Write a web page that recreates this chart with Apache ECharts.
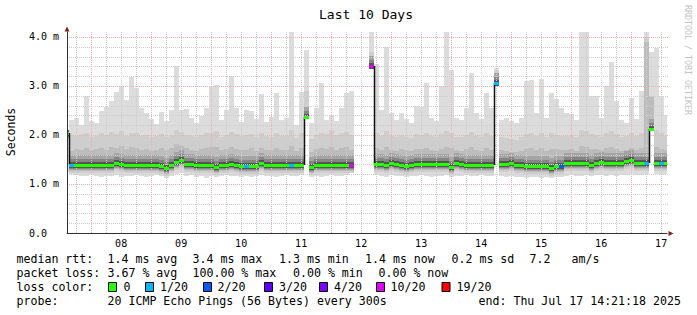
<!DOCTYPE html>
<html><head><meta charset="utf-8">
<script src="https://cdn.jsdelivr.net/npm/echarts@6/dist/echarts.min.js"></script>
<style>html,body{margin:0;padding:0;background:#fff}#c{width:697px;height:315px}</style>
</head><body><div id="c"></div>
<script>
// ---- time base: hours since Jul 7 00:00 ----
const PLOT_START_HOUR = 14.35;   // Jul 7 14:21
const PLOT_END_HOUR = 254.35;    // Jul 17 14:21
const SLOT_START_HOUR = 13;      // first consolidated slot
const SLOT_HOURS = 2;

// day labels (placed at noon of each day)
const dayLabelHours = [36, 60, 84, 108, 132, 156, 180, 204, 228, 252];
const dayLabels = ['08', '09', '10', '11', '12', '13', '14', '15', '16', '17'];

// y tick labels
const yTickValues = [0, 1, 2, 3, 4];
const yTickLabels = ['0.0\u00a0\u00a0', '1.0 m', '2.0 m', '3.0 m', '4.0 m'];

// smoke: highest ping (ms)
const smokeMax = [
 2.10, 2.30, 2.35, 2.20, 2.80, 2.28, 2.25, 2.49, 2.57, 2.70,
 2.88, 3.00, 2.72, 3.18, 2.96, 2.54, 2.45, 2.32, 2.22, 2.47,
 2.28, 2.50, 3.41, 2.50, 2.52, 2.34, 2.25, 2.38, 2.55, 3.00,
 3.02, 2.30, 2.50, 3.20, 2.55, 2.26, 2.50, 2.48, 2.32, 2.83,
 2.27, 2.36, 2.86, 2.30, 2.34, 4.09, 2.20, 2.88, 3.73, 2.25,
 2.55, 3.06, 2.30, 2.40, 2.28, 2.55, 2.86, 2.90, null, null,
 null, 4.09, 3.45, 2.50, 3.80, 2.45, 2.30, 2.45, 2.32, 2.25,
 2.60, 2.58, 3.06, 2.35, 2.28, 3.00, 4.09, 3.33, 2.35, 2.30,
 2.55, 3.27, 2.45, 2.32, 2.86, 2.55, 3.36, 2.30, 2.35, 2.28,
 2.25, 2.35, 3.10, 3.12, 2.45, 3.15, 2.35, 2.86, 2.73, 2.55,
 2.45, 2.42, 2.30, 4.09, 4.09, 2.80, 2.80, 2.35, 3.00, 3.48,
 2.70, 2.30, 2.25, 2.75, 2.32, 2.90, 4.09, 3.70, 3.77, 2.80, 2.40
];
// smoke: upper layer top (ms)
const smokeHigh = [
 1.95, 2.00, 1.98, 2.02, 2.05, 1.96, 1.98, 2.03, 2.00, 2.06,
 2.02, 2.08, 1.97, 2.05, 2.04, 1.98, 2.00, 1.95, 1.97, 2.02,
 1.96, 2.00, 2.10, 2.06, 2.00, 1.97, 1.95, 1.99, 2.03, 2.05,
 2.08, 1.96, 2.00, 2.06, 2.01, 1.97, 1.99, 2.02, 1.95, 2.04,
 1.98, 1.96, 2.03, 1.97, 1.98, 2.10, 1.94, 2.05, 2.90, 1.92,
 2.00, 2.05, 2.02, 2.10, 2.00, 2.04, 2.06, 2.00, null, null,
 null, 3.69, 2.05, 1.97, 2.08, 1.98, 1.95, 1.99, 1.96, 1.94,
 2.02, 2.00, 2.05, 1.97, 1.95, 2.02, 2.08, 2.05, 1.96, 1.95,
 2.00, 2.07, 1.98, 1.95, 2.03, 1.98, 3.30, 1.96, 1.94, 1.92,
 1.90, 1.95, 2.02, 2.05, 1.97, 2.04, 1.96, 2.03, 2.00, 1.97,
 1.98, 2.00, 1.95, 2.10, 2.08, 2.02, 2.00, 1.96, 2.04, 2.08,
 2.02, 1.96, 1.97, 2.03, 1.98, 2.05, 4.00, 2.80, 2.10, 2.03, 1.98
];
// smoke: middle layer top (ms)
const smokeMid = [
 1.70, 1.68, 1.72, 1.70, 1.74, 1.69, 1.71, 1.73, 1.70, 1.76,
 1.74, 1.78, 1.72, 1.75, 1.73, 1.70, 1.72, 1.68, 1.70, 1.74,
 1.69, 1.73, 1.82, 1.80, 1.74, 1.70, 1.68, 1.71, 1.73, 1.75,
 1.76, 1.69, 1.72, 1.76, 1.72, 1.69, 1.70, 1.73, 1.68, 1.74,
 1.70, 1.69, 1.73, 1.69, 1.70, 1.78, 1.67, 1.74, 2.55, 1.66,
 1.71, 1.74, 1.72, 1.76, 1.70, 1.73, 1.75, 1.70, null, null,
 null, 3.50, 1.74, 1.70, 1.76, 1.70, 1.68, 1.71, 1.69, 1.67,
 1.72, 1.71, 1.74, 1.69, 1.68, 1.72, 1.76, 1.74, 1.69, 1.68,
 1.71, 1.75, 1.70, 1.68, 1.73, 1.70, 3.20, 1.69, 1.67, 1.66,
 1.65, 1.68, 1.72, 1.74, 1.69, 1.73, 1.68, 1.72, 1.71, 1.69,
 1.70, 1.72, 1.68, 1.78, 1.76, 1.72, 1.71, 1.69, 1.73, 1.76,
 1.72, 1.68, 1.70, 1.74, 1.70, 1.74, 3.90, 2.78, 1.76, 1.72, 1.70
];
// smoke: lowest ping (ms)
const smokeMin = [
 1.25, 1.20, 1.18, 1.17, 1.16, 1.18, 1.17, 1.15, 1.17, 1.16,
 1.18, 1.15, 1.17, 1.16, 1.18, 1.17, 1.15, 1.17, 1.18, 1.16,
 1.13, 1.17, 1.20, 1.22, 1.16, 1.18, 1.15, 1.17, 1.13, 1.16,
 1.14, 1.17, 1.18, 1.16, 1.17, 1.15, 1.16, 1.14, 1.17, 1.18,
 1.16, 1.17, 1.15, 1.17, 1.18, 1.17, 1.16, 1.18, 2.33, 1.15,
 1.17, 1.15, 1.16, 1.18, 1.17, 1.16, 1.18, 1.22, null, null,
 null, 3.35, 1.18, 1.17, 1.15, 1.18, 1.16, 1.17, 1.15, 1.17,
 1.16, 1.18, 1.17, 1.15, 1.17, 1.16, 1.18, 1.14, 1.17, 1.16,
 1.18, 1.17, 1.16, 1.18, 1.17, 1.16, 3.00, 1.17, 1.15, 1.16,
 1.14, 1.15, 1.13, 1.15, 1.14, 1.13, 1.15, 1.12, 1.14, 1.15,
 1.17, 1.18, 1.17, 1.16, 1.18, 1.17, 1.18, 1.19, 1.17, 1.18,
 1.17, 1.19, 1.18, 1.20, 1.18, 1.19, 1.20, 2.08, 1.20, 1.19, 1.20
];
// median rtt (ms)
const medianRtt = [
 2.04, 1.38, 1.39, 1.38, 1.39, 1.38, 1.38, 1.39, 1.38, 1.39,
 1.42, 1.41, 1.39, 1.38, 1.38, 1.39, 1.38, 1.39, 1.38, 1.36,
 1.33, 1.38, 1.45, 1.48, 1.40, 1.40, 1.39, 1.38, 1.38, 1.38,
 1.35, 1.38, 1.38, 1.40, 1.38, 1.37, 1.37, 1.36, 1.37, 1.42,
 1.38, 1.38, 1.38, 1.38, 1.38, 1.38, 1.38, 1.38, 2.37, 1.35,
 1.39, 1.38, 1.38, 1.38, 1.39, 1.38, 1.38, 1.38, null, null,
 null, 3.41, 1.40, 1.40, 1.39, 1.42, 1.40, 1.39, 1.37, 1.39,
 1.40, 1.41, 1.41, 1.41, 1.41, 1.40, 1.41, 1.35, 1.42, 1.40,
 1.39, 1.39, 1.39, 1.39, 1.39, 1.39, 3.06, 1.40, 1.40, 1.42,
 1.39, 1.39, 1.36, 1.37, 1.37, 1.36, 1.37, 1.33, 1.37, 1.36,
 1.43, 1.43, 1.42, 1.42, 1.42, 1.38, 1.42, 1.45, 1.43, 1.43,
 1.43, 1.43, 1.46, 1.48, 1.43, 1.43, 1.42, 2.12, 1.42, 1.42, 1.42
];
// loss class index per slot (into lossLabels)
const lossIdx = [
 0, 1, 0, 0, 0, 0, 0, 0, 0, 0,
 0, 0, 0, 0, 0, 0, 0, 0, 0, 0,
 0, 0, 0, 0, 0, 0, 0, 0, 0, 0,
 0, 0, 0, 0, 0, 0, 1, 0, 0, 0,
 0, 0, 0, 0, 0, 1, 0, 0, 0, 0,
 0, 0, 0, 0, 0, 0, 0, 5, null, null,
 null, 5, 0, 0, 0, 0, 0, 0, 0, 0,
 0, 0, 0, 0, 0, 0, 0, 0, 0, 0,
 0, 0, 0, 0, 0, 0, 1, 0, 0, 0,
 0, 0, 0, 0, 0, 0, 0, 0, 0, 2,
 0, 0, 0, 0, 0, 0, 0, 0, 0, 0,
 0, 0, 0, 0, 0, 0, 1, 0, 0, 1, 0
];
const lossLabels = ['0', '1/20', '2/20', '3/20', '4/20', '10/20', '19/20'];
const lossColors = ['#26ff00', '#00b8ff', '#0059ff', '#5e00ff', '#7e00ff', '#dd00ff', '#ff0000'];

// legend text segments [text, left x]
const statLine1 = [['median rtt:', 16.5], ['1.4 ms avg', 107.5], ['3.4 ms max', 192.5], ['1.3 ms min', 279],
  ['1.4 ms now', 365], ['0.2 ms sd', 451.5], ['7.2', 529.5], ['am/s', 571.5]];
const statLine2 = [['packet loss:', 16.5], ['3.67 % avg', 107.5], ['100.00 % max', 192.5], ['0.00 % min', 293],
  ['0.00 % now', 378.5]];
const probeLine = [['probe:', 16.5], ['20 ICMP Echo Pings (56 Bytes) every 300s', 107.5], ['end: Thu Jul 17 14:21:18 2025', 478.5]];
const lossTitle = 'loss color:';
const swatchX = [108, 145, 203, 264, 319, 376, 441.5];
const swatchLabelX = [123.5, 160, 217.5, 279, 334, 390.5, 456.5];

// ---- build ----
const MONO = '"DejaVu Sans Mono", monospace';
const slotTimes = medianRtt.map((_, i) => SLOT_START_HOUR + i * SLOT_HOURS);

const smokeData = [];
const medianData = [];
slotTimes.forEach((t, i) => {
  if (medianRtt[i] == null) return;
  smokeData.push([t, smokeMax[i], smokeHigh[i], smokeMid[i], smokeMin[i], medianRtt[i]]);
  medianData.push([t, medianRtt[i], lossIdx[i], i]);
});

const gridData = [];
for (let h = 18; h < PLOT_END_HOUR; h += 6) gridData.push([h, h % 24 === 0 ? 1 : 0]);
for (let k = 1; k <= 20; k++) gridData.push([k / 5, k % 5 === 0 ? 3 : 2]);

function slotX(api, cs, t) {
  const a = Math.round(api.coord([t, 0])[0]);
  const b = Math.round(api.coord([t + SLOT_HOURS, 0])[0]);
  const l = Math.round(cs.x), r = Math.round(cs.x + cs.width);
  return [Math.max(a, l), Math.min(b, r), a];
}

function smokeItem(params, api) {
  const cs = params.coordSys;
  const t = api.value(0);
  const [xa, xb] = slotX(api, cs, t);
  if (xb <= xa) return null;
  const w = xb - xa;
  const Y = v => Math.round(api.coord([t, v])[1]);
  const yMax = Y(api.value(1)), yHigh = Y(api.value(2)), yMid = Y(api.value(3));
  const yMin = Y(api.value(4)), yMed = Y(api.value(5));
  const band = (top, bot, color) => {
    top = Math.max(top, yMax); bot = Math.min(bot, yMin);
    if (bot <= top) return null;
    return { type: 'rect', shape: { x: xa, y: top, width: w, height: bot - top }, style: { fill: color } };
  };
  const kids = [
    band(yMax, yMin, '#dcdcdc'),
    band(yHigh, yMed + 8, '#cecece'),
    band(yMid, yMed + 6, '#bcbcbc'),
    band(yMed - 10, yMed + 5, '#a4a4a4'),
    band(yMed - 6, yMed + 4, '#858585'),
    band(yMed - 3, yMed + 3, '#555555')
  ].filter(Boolean);
  return { type: 'group', children: kids };
}

function medianItem(params, api) {
  const cs = params.coordSys;
  const t = api.value(0), m = api.value(1), loss = api.value(2), k = api.value(3);
  const [xa, xb, rawA] = slotX(api, cs, t);
  const kids = [];
  const y = Math.round(api.coord([t, m])[1]);
  const prev = k > 0 ? medianRtt[k - 1] : null;
  if (prev != null && rawA >= cs.x - 1) {
    const yPrev = Math.round(api.coord([t, prev])[1]);
    const prevPrevKnown = k > 1 && medianRtt[k - 2] != null;
    if (Math.abs(yPrev - y) > 4 && (m > prev || !prevPrevKnown)) {
      kids.push({ type: 'line', shape: { x1: xa + 0.5, y1: yPrev, x2: xa + 0.5, y2: y },
        style: { stroke: '#111', lineWidth: 1.5 } });
    }
  }
  if (xb > xa) {
    kids.push({ type: 'rect', shape: { x: xa, y: y - 1, width: xb - xa, height: 3 },
      style: { fill: lossColors[loss] } });
  }
  return { type: 'group', children: kids };
}

function gridItem(params, api) {
  const cs = params.coordSys;
  const v = api.value(0), kind = api.value(1);
  const major = kind === 1 || kind === 3;
  const style = { stroke: major ? '#f0b0b0' : '#cdcdcd', lineWidth: 1, lineDash: [1, 1] };
  if (kind < 2) {
    const x = Math.round(api.coord([v, 0])[0]) + 0.5;
    return { type: 'line', shape: { x1: x, y1: cs.y, x2: x, y2: cs.y + cs.height }, style };
  }
  const y = Math.round(api.coord([PLOT_START_HOUR, v])[1]) + 0.5;
  return { type: 'line', shape: { x1: cs.x, y1: y, x2: cs.x + cs.width + 1, y2: y }, style };
}

const FONT_LEG = '11.6px ' + MONO;
const txt = (text, x, y, extra) => ({ type: 'text', x, y,
  style: Object.assign({ text, font: FONT_LEG, fill: '#000', align: 'left', verticalAlign: 'middle' }, extra || {}) });

const graphics = [
  txt('Last 10 Days', 366, 14, { font: '13px ' + MONO, align: 'center' }),
  Object.assign(txt('RRDTOOL / TOBI OETIKER', 688, 5, { font: '8.3px ' + MONO, fill: '#c4c4c4' }), { rotation: -Math.PI / 2 }),
  Object.assign(txt('Seconds', 11, 132, { font: '11.5px ' + MONO, align: 'center' }), { rotation: Math.PI / 2 }),
  { type: 'polygon', shape: { points: [[67, 26.5], [64.5, 31.5], [69.5, 31.5]] }, style: { fill: '#7f1f1f' }, z: 100 },
  { type: 'polygon', shape: { points: [[673.5, 233.5], [668.5, 231], [668.5, 236]] }, style: { fill: '#7f1f1f' }, z: 100 },
  txt(lossTitle, 16.5, 287)
];
statLine1.forEach(([s, x]) => graphics.push(txt(s, x, 259)));
statLine2.forEach(([s, x]) => graphics.push(txt(s, x, 273)));
probeLine.forEach(([s, x]) => graphics.push(txt(s, x, 301)));
lossLabels.forEach((lab, i) => {
  graphics.push({ type: 'rect', shape: { x: swatchX[i] + 0.5, y: 282.5, width: 8, height: 9 }, style: { fill: lossColors[i], stroke: '#000', lineWidth: 1 } });
  graphics.push(txt(lab, swatchLabelX[i], 287));
});

const chart = echarts.init(document.getElementById('c'), null, { renderer: 'svg' });
chart.setOption({
  animation: false,
  backgroundColor: '#fff',
  grid: { left: 67, right: 30, top: 32, bottom: 82, containLabel: false, outerBoundsMode: 'none' },
  xAxis: {
    type: 'value', min: PLOT_START_HOUR, max: PLOT_END_HOUR,
    axisLine: { show: true, lineStyle: { color: '#333', width: 1 } },
    axisTick: { show: false }, splitLine: { show: false },
    axisLabel: {
      customValues: dayLabelHours,
      formatter: v => { const i = dayLabelHours.indexOf(v); return i >= 0 ? dayLabels[i] : ''; },
      fontFamily: MONO, fontSize: 10, color: '#000', margin: 5
    },
    z: 10
  },
  yAxis: {
    type: 'value', min: 0, max: 4.1, interval: 1,
    axisLine: { show: true, lineStyle: { color: '#333', width: 1 } },
    axisTick: { show: false }, splitLine: { show: false },
    axisLabel: {
      formatter: v => { const i = yTickValues.indexOf(v); return i >= 0 ? yTickLabels[i] : ''; },
      fontFamily: MONO, fontSize: 10, color: '#000', margin: 8
    },
    z: 10
  },
  series: [
    { type: 'custom', name: 'smoke', renderItem: smokeItem, data: smokeData, encode: { x: 0, y: 1 }, z: 1, silent: true },
    { type: 'custom', name: 'grid', renderItem: gridItem, data: gridData, encode: { x: 0, y: 1 }, z: 2, silent: true },
    { type: 'custom', name: 'median', renderItem: medianItem, data: medianData, encode: { x: 0, y: 1 }, z: 3, silent: true }
  ],
  graphic: graphics
});
</script>
</body></html>
